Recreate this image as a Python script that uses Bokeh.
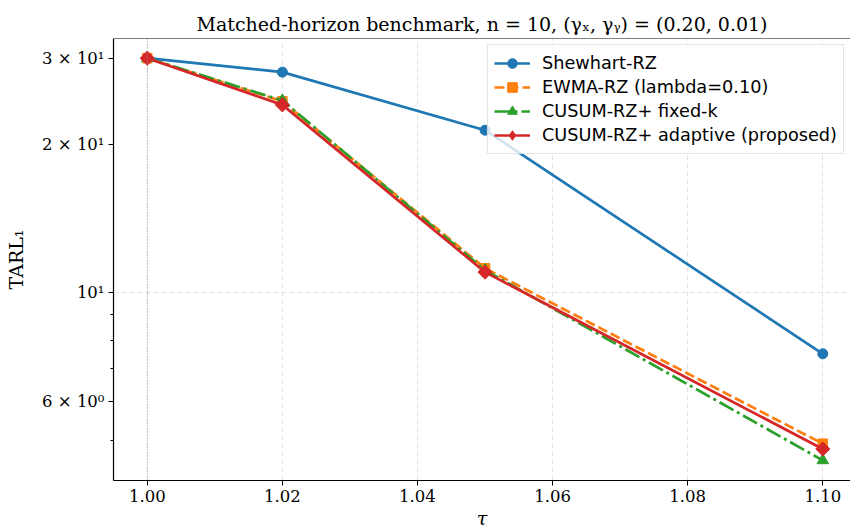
from bokeh.plotting import figure
from bokeh.models import FixedTicker, Span, Range1d, PrintfTickFormatter
from bokeh.embed import file_html
from bokeh.resources import INLINE

# ---- data ----
tau = [1.00, 1.02, 1.05, 1.10]
shewhart = [30.0, 28.1, 21.4, 7.5]
ewma = [30.0, 24.5, 11.2, 4.92]
cusum_fixed = [30.0, 24.6, 11.1, 4.55]
cusum_adaptive = [30.0, 24.1, 11.0, 4.80]

x_ticks = [1.00, 1.02, 1.04, 1.06, 1.08, 1.10]
y_ticks = [6, 10, 20, 30]
y_minor = [5, 7, 8, 9]
y_labels = {6: "6 × 10⁰", 10: "10¹", 20: "2 × 10¹", 30: "3 × 10¹"}

title = "Matched-horizon benchmark, n = 10, (γₓ, γᵧ) = (0.20, 0.01)"

SERIF = "DejaVu Serif"
SANS = "DejaVu Sans"

y_lo, y_hi = 4.14, 32.9

p = figure(width=850, height=531, y_axis_type="log",
           x_range=Range1d(0.995, 1.1041), y_range=Range1d(y_lo, y_hi),
           output_backend="svg", toolbar_location=None,
           min_border_left=113, min_border_right=0, min_border_top=38,
           min_border_bottom=51)

p.outline_line_color = None
p.background_fill_color = "white"
p.border_fill_color = "white"

# title
p.title.text = title
p.title.text_font = SERIF
p.title.text_font_size = "19px"
p.title.text_font_style = "normal"
p.title.text_color = "black"
p.title.align = "center"
p.title.standoff = 8

# axes
p.xaxis.ticker = FixedTicker(ticks=x_ticks)
p.xaxis.formatter = PrintfTickFormatter(format="%.2f")
p.yaxis.ticker = FixedTicker(ticks=y_ticks, minor_ticks=y_minor)
p.yaxis.major_label_overrides = y_labels

for ax in (p.xaxis[0], p.yaxis[0]):
    ax.axis_line_color = "black"
    ax.axis_line_width = 1.2
    ax.major_tick_line_color = "black"
    ax.minor_tick_line_color = "black"
    ax.major_tick_in = 0
    ax.minor_tick_in = 0
    ax.major_tick_out = 5
    ax.minor_tick_out = 3
    ax.major_label_text_font = SERIF
    ax.major_label_text_font_size = "16.5px"
    ax.major_label_text_color = "black"
    ax.axis_label_text_font = SERIF
    ax.axis_label_text_font_size = "19px"
    ax.axis_label_text_font_style = "normal"
    ax.axis_label_text_color = "black"

p.xaxis.major_label_standoff = 4
p.xaxis.axis_label = "τ"
p.xaxis.axis_label_text_font_style = "italic"
p.xaxis.axis_label_standoff = 2
p.xaxis.minor_tick_line_color = None

p.yaxis.major_label_standoff = 4
p.yaxis.axis_label = "TARL₁"
p.yaxis.axis_label_standoff = 12

# grid
p.xgrid.ticker = FixedTicker(ticks=x_ticks)
p.xgrid.grid_line_color = "#b0b0b0"
p.xgrid.grid_line_alpha = 0.35
p.xgrid.grid_line_dash = "5 3"
p.xgrid.grid_line_width = 1
p.ygrid.ticker = FixedTicker(ticks=[10])
p.ygrid.grid_line_color = "#b0b0b0"
p.ygrid.grid_line_alpha = 0.35
p.ygrid.grid_line_dash = "5 3"
p.ygrid.grid_line_width = 1

# reference line at tau = 1 and top spine
p.add_layout(Span(location=1.0, dimension="height", line_color="#999999",
                  line_width=1, line_dash="1 2"))
p.add_layout(Span(location=y_hi, dimension="width", line_color="black",
                  line_width=1.2))

# series
c_blue, c_orange, c_green, c_red = "#1f77b4", "#ff7f0e", "#2ca02c", "#d62728"
nan4 = [float("nan")] * len(tau)

lab1 = "Shewhart-RZ"
p.line(tau, shewhart, line_color=c_blue, line_width=2.7, legend_label=lab1)
p.scatter(tau, shewhart, marker="circle", size=10, fill_color=c_blue,
          line_color=c_blue, legend_label=lab1)

lab2 = "EWMA-RZ (lambda=0.10)"
p.line(tau, ewma, line_color=c_orange, line_width=2.7, line_dash="10 4",
       legend_label=lab2)
p.scatter(tau, ewma, marker="square", size=9.5, fill_color=c_orange,
          line_color=c_orange, legend_label=lab2)

lab3 = "CUSUM-RZ+ fixed-k"
p.line(tau, cusum_fixed, line_color=c_green, line_width=2.7,
       line_dash="16 4 3 4", legend_label=lab3)
p.scatter(tau, cusum_fixed, marker="triangle", size=11.5, fill_color=c_green,
          line_color=c_green, legend_label=lab3)

lab4 = "CUSUM-RZ+ adaptive (proposed)"
p.line(tau, cusum_adaptive, line_color=c_red, line_width=2.7,
       legend_label=lab4)
# rotated squares for the data points, a diamond stand-in for the legend key
p.scatter(tau, cusum_adaptive, marker="square", angle=0.785398, size=10,
          fill_color=c_red, line_color=c_red)
p.scatter(tau, nan4, marker="diamond", size=14, fill_color=c_red,
          line_color=c_red, legend_label=lab4)

# legend
lg = p.legend[0]
lg.location = "top_right"
lg.margin = 6
lg.padding = 6
lg.spacing = 0
lg.glyph_width = 36
lg.glyph_height = 24
lg.label_height = 24
lg.label_standoff = 12
lg.label_text_font = SANS
lg.label_text_font_size = "17.7px"
lg.label_text_color = "black"
lg.border_line_color = "#cccccc"
lg.border_line_width = 1
lg.background_fill_color = "white"
lg.background_fill_alpha = 0.8

open("out.html", "w").write(file_html(p, INLINE))
